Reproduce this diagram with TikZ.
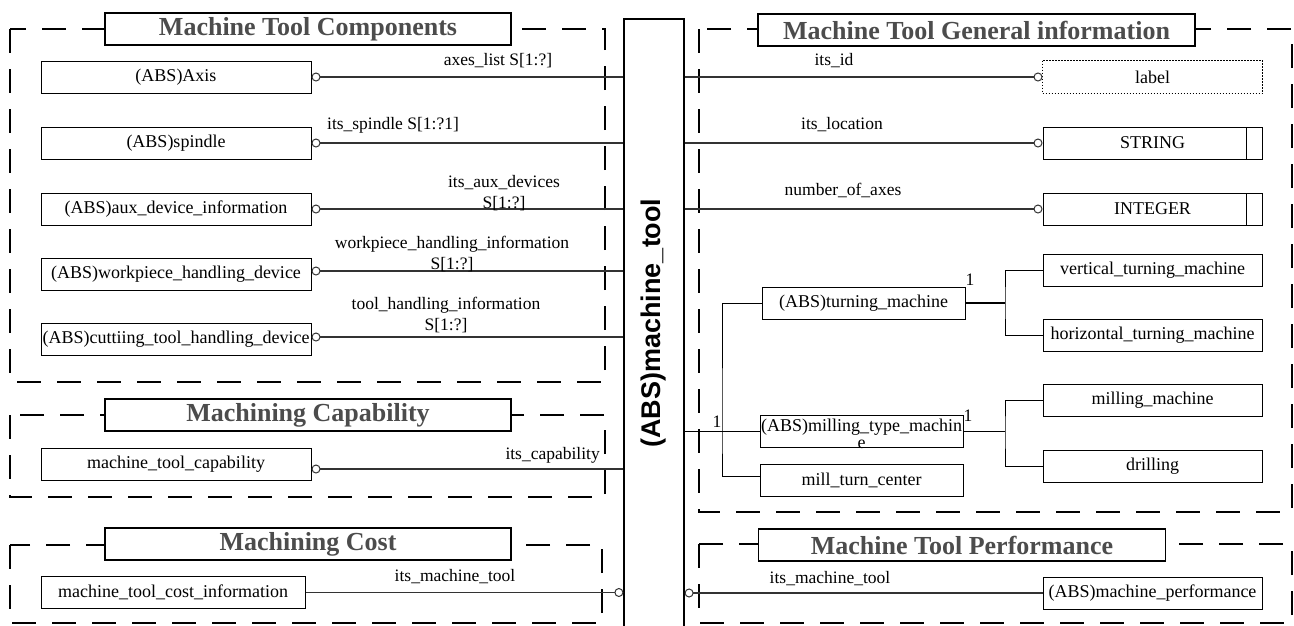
\documentclass[tikz,border=0pt]{standalone}
\usepackage{fontspec}
\setmainfont{Liberation Serif}
\setsansfont{Liberation Sans}
\usetikzlibrary{positioning,arrows.meta}

\begin{document}
\begin{tikzpicture}[
  x=1pt, y=-1pt,
  ent/.style={
        draw, line width=1pt,
        minimum width=270pt, minimum height=32pt, inner sep=0pt,
        font=\fontsize{18}{21.6}\selectfont
  },
  typ/.style={ent, minimum width=219pt},
  simple/.style={
        typ,
        path picture={\draw[line width=1pt]
          ([xshift=-16pt]path picture bounding box.north east) --
          ([xshift=-16pt]path picture bounding box.south east);}
  },
  titlebox/.style={
        draw, line width=1.2pt, fill=white,
        minimum height=32pt, inner sep=0pt, text=black!70,
        font=\fontsize{26}{30}\selectfont\bfseries
  },
  panel/.style={line width=1.3pt, dash pattern=on 24pt off 16pt},
  conn/.style={line width=1.1pt, black!80},
  bar/.style={line width=1.8pt},
  ring/.style={{Circle[open, length=9pt, width=9pt, line width=1pt]}-},
  gnir/.style={-{Circle[open, length=9pt, width=9pt, line width=1pt]}},
  lbl/.style={inner sep=0pt, align=center, font=\fontsize{17.5}{21}\selectfont}
]

    \useasboundingbox (0,0) rectangle (1294,625);

    % dashed groups
    \draw[panel] (10,29) rectangle (605,382);
    \draw[panel] (10,415) rectangle (605,497);
    \draw[panel] (10,545) rectangle (602,623);
    \draw[panel] (699,29) rectangle (1292,512);
    \draw[panel] (699,544) rectangle (1292,623);

    \node[titlebox, minimum width=406pt] (t_comp) at (308,29) {Machine Tool Components};
    \node[titlebox, minimum width=406pt] (t_capa) at (308,415) {Machining Capability};
    \node[titlebox, minimum width=406pt] (t_cost) at (308,544) {Machining Cost};
    \node[titlebox, minimum width=437pt] (t_info) at (976.5,30) {Machine Tool General information};
    \node[titlebox, minimum width=407pt] (t_perf) at (962,545) {Machine Tool Performance};

    % the central entity
    \node[draw, line width=1.2pt, minimum width=60pt, minimum height=608pt, inner sep=0pt,
          font=\sffamily\bfseries\fontsize{27}{32}\selectfont] (mt) at (654,323)
          {\rotatebox{90}{(ABS)machine\_tool}};

    % components
    \node[ent] (axis) at (176,77) {(ABS)Axis};
    \node[ent, below=33pt of axis] (spdl) {(ABS)spindle};
    \node[ent, below=33pt of spdl] (aux) {(ABS)aux\_device\_information};
    \node[ent, below=32pt of aux] (wph) {(ABS)workpiece\_handling\_device};
    \node[ent, below=32pt of wph] (cth) {(ABS)cuttiing\_tool\_handling\_device};

    \draw[conn, ring] (axis.east) -- (axis.east -| mt.west);
    \draw[conn, ring] (spdl.east) -- (spdl.east -| mt.west);
    \draw[conn, ring] (aux.east) -- (aux.east -| mt.west);
    \draw[conn, ring] ([yshift=3pt]wph.east) -- ([yshift=3pt]wph.east -| mt.west);
    \draw[conn, ring] ([yshift=2pt]cth.east) -- ([yshift=2pt]cth.east -| mt.west);

    \node[lbl] (l_axes) at (498,61) {axes\_list S[1:?]};
    \node[lbl] (l_spdl) at (393,125) {its\_spindle S[1:?1]};
    \node[lbl] (l_aux) at (504,193) {its\_aux\_devices\\S[1:?]};
    \node[lbl] (l_wph) at (452,254) {workpiece\_handling\_information\\S[1:?]};
    \node[lbl] (l_cth) at (446,315) {tool\_handling\_information\\S[1:?]};

    % capability and cost
    \node[ent] (capa) at (176,464) {machine\_tool\_capability};
    \draw[conn, ring] ([yshift=-5pt]capa.east) -- ([yshift=-5pt]capa.east -| mt.west);
    \node[lbl, anchor=east] (l_capa) at (600,455) {its\_capability};

    \node[ent, minimum width=264pt] (cost) at (173,592.5) {machine\_tool\_cost\_information};
    \draw[conn, gnir] (cost.east) -- (cost.east -| mt.west);
    \node[lbl] (l_cost) at (455,577) {its\_machine\_tool};

    % general information
    \node[typ, draw=none] (lab) at (1152.5,77) {label};
    \draw[line width=0.8pt, dash pattern=on 1.5pt off 1.5pt] (lab.north west) rectangle (lab.south east);
    \node[simple, below=33pt of lab] (str) {STRING\hspace{16pt}};
    \node[simple, below=33pt of str] (intg) {INTEGER\hspace{16pt}};

    \draw[conn, gnir] (lab.west -| mt.east) -- (lab.west);
    \draw[conn, gnir] (str.west -| mt.east) -- (str.west);
    \draw[conn, gnir] (intg.west -| mt.east) -- (intg.west);

    \node[lbl] (l_id) at (834,61) {its\_id};
    \node[lbl] (l_loc) at (842,125) {its\_location};
    \node[lbl] (l_nax) at (843,190) {number\_of\_axes};

    % machine kinds
    \node[typ] (vtm) at (1152.5,270.5) {vertical\_turning\_machine};
    \node[typ, below=32pt of vtm] (htm) {horizontal\_turning\_machine};
    \node[typ, below=32pt of htm] (mm) {milling\_machine};
    \node[typ, below=33pt of mm] (drl) {drilling};

    \node[ent, minimum width=203pt] (tm) at (863.5,303) {(ABS)turning\_machine};
    \node[ent, minimum width=203pt] (mtm) at (861.5,431.5)
         {\raisebox{0pt}[0pt][0pt]{\begin{tabular}[t]{@{}c@{}}(ABS)milling\_type\_machin\\[-4.5pt]e\end{tabular}}};
    \node[ent, minimum width=203pt, below=16pt of mtm] (mtc) {mill\_turn\_center};

    \coordinate (tj) at (722,431.5);
    \coordinate (tf) at (1005,303);
    \coordinate (mf) at (1005,431.5);

    \draw[bar] (mt.east |- mtm.west) -- (mtm.west);
    \draw[line width=1pt] (tm.west) -| (tj) |- ([yshift=4pt]mtc.west);

    \draw[bar] (tm.east) -- (tf);
    \draw[line width=1pt] (vtm.west) -| (tf) |- (htm.west);
    \draw[bar] (mtm.east) -- (mf);
    \draw[line width=1pt] (mm.west) -| (mf) |- (drl.west);

    \node[lbl] (n_root) at (717,422) {1};
    \node[lbl] (n_turn) at (970,280) {1};
    \node[lbl] (n_mill) at (968,416) {1};

    % performance
    \node[typ] (perf) at (1152.5,593) {(ABS)machine\_performance};
    \draw[conn, ring] (perf.west -| mt.east) -- (perf.west);
    \node[lbl] (l_perf) at (830,579) {its\_machine\_tool};

\end{tikzpicture}
\end{document}
